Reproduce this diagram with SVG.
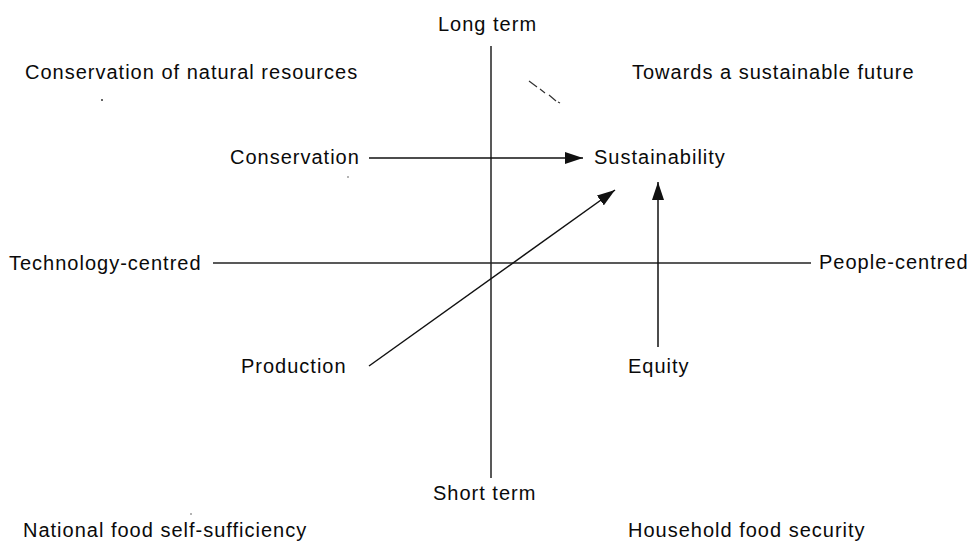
<svg xmlns="http://www.w3.org/2000/svg" width="972" height="543" viewBox="0 0 972 543">
<style>
text{font-family:"Liberation Sans",Arial,Helvetica,sans-serif;font-size:20px;letter-spacing:1px;fill:#0a0a0a}
.ax{stroke:#222;stroke-width:1.5;fill:none}
.ar{stroke:#111;stroke-width:1.5;fill:none;marker-end:url(#ah)}
</style>
<defs>
<marker id="ah" markerUnits="userSpaceOnUse" markerWidth="18" markerHeight="12" refX="18" refY="6" orient="auto">
<path d="M0,0 L18,6 L0,12 z" fill="#111"/>
</marker>
</defs>
<rect width="972" height="543" fill="#fff"/>
<g id="axes">
<line class="ax" x1="491" y1="46" x2="491" y2="478"/>
<line class="ax" x1="213" y1="263" x2="811" y2="263"/>
</g>
<g id="connectors">
<line class="ar" x1="369" y1="158" x2="583" y2="158"/>
<line class="ar" x1="369" y1="366" x2="615" y2="190"/>
<line class="ar" x1="658" y1="347" x2="658" y2="182"/>
</g>
<g id="marks" stroke="#333" stroke-width="1.2" fill="none">
<path d="M529,81 L537,87 M540,89 L545,93 M549,95 L556,101 M558,102 L560,103"/>
<circle cx="102" cy="100" r="1" fill="#333" stroke="none"/>
<circle cx="348" cy="177" r="0.8" fill="#555" stroke="none"/>
<circle cx="191" cy="514" r="0.8" fill="#555" stroke="none"/>
</g>
<g id="long-term"><text x="438" y="31">Long term</text></g>
<g id="short-term"><text x="433" y="500">Short term</text></g>
<g id="technology-centred"><text x="9" y="270">Technology-centred</text></g>
<g id="people-centred"><text x="819" y="269">People-centred</text></g>
<g id="conservation-of-natural-resources"><text x="25" y="79">Conservation of natural resources</text></g>
<g id="towards-sustainable-future"><text x="632" y="79">Towards a sustainable future</text></g>
<g id="national-food"><text x="23" y="537">National food self-sufficiency</text></g>
<g id="household-food"><text x="628" y="537">Household food security</text></g>
<g id="conservation"><text x="230" y="164">Conservation</text></g>
<g id="sustainability"><text x="594" y="164">Sustainability</text></g>
<g id="production"><text x="241" y="373">Production</text></g>
<g id="equity"><text x="628" y="373">Equity</text></g>
</svg>
